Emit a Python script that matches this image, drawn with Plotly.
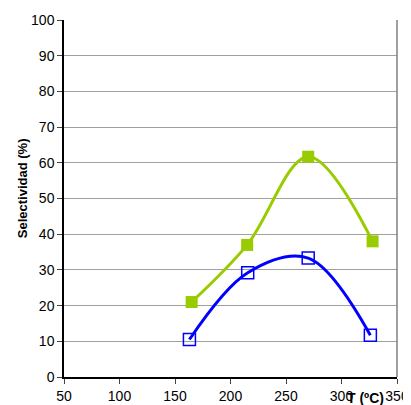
import plotly.graph_objects as go

temp_green = [165, 215, 270, 328]
sel_green = [21, 37, 61.7, 38]
temp_blue = [163, 215.5, 270, 326]
sel_blue = [10.5, 29.2, 33.3, 11.7]

x_ticks = [50, 100, 150, 200, 250, 300, 350]
y_ticks = [0, 10, 20, 30, 40, 50, 60, 70, 80, 90, 100]

fig = go.Figure()
fig.add_trace(go.Scatter(
    x=temp_green, y=sel_green, mode="lines+markers",
    line=dict(color="#99CC00", width=3, shape="spline", smoothing=1.0),
    marker=dict(symbol="square", size=12, color="#99CC00"),
    showlegend=False))
fig.add_trace(go.Scatter(
    x=temp_blue, y=sel_blue, mode="lines+markers",
    line=dict(color="#0000FF", width=3, shape="spline", smoothing=1.0),
    marker=dict(symbol="square-open", size=12, color="#0000FF", line=dict(width=1.5)),
    showlegend=False))

fig.update_layout(
    width=403, height=397,
    margin=dict(l=56, r=14, t=12, b=28),
    paper_bgcolor="white", plot_bgcolor="white",
    font=dict(family="Liberation Sans, Arial", size=14, color="black"),
    xaxis=dict(range=[50, 350], tickvals=x_ticks, ticks="outside", ticklen=5,
               showline=True, linecolor="black", linewidth=1.5, showgrid=False,
               zeroline=False, mirror=False, automargin=False),
    yaxis=dict(range=[0, 100], tickvals=y_ticks, ticks="outside", ticklen=5,
               showline=True, linecolor="black", linewidth=1.5, automargin=False,
               showgrid=True, gridcolor="#A0A0A0", gridwidth=1, zeroline=False),
    shapes=[dict(type="line", xref="paper", yref="paper", x0=1, x1=1, y0=0, y1=1,
                 line=dict(color="#808080", width=1.5))],
    annotations=[
        dict(text="<b>T (ºC)</b>", xref="paper", yref="paper",
             x=0.904, y=0, yshift=-11, showarrow=False,
             font=dict(size=14), xanchor="center", yanchor="top"),
        dict(text="<b>Selectividad (%)</b>", xref="paper", yref="paper",
             x=-0.126, y=0.529, textangle=-90, showarrow=False,
             font=dict(size=13), xanchor="center", yanchor="middle"),
    ],
)

fig.write_html("out.html")
